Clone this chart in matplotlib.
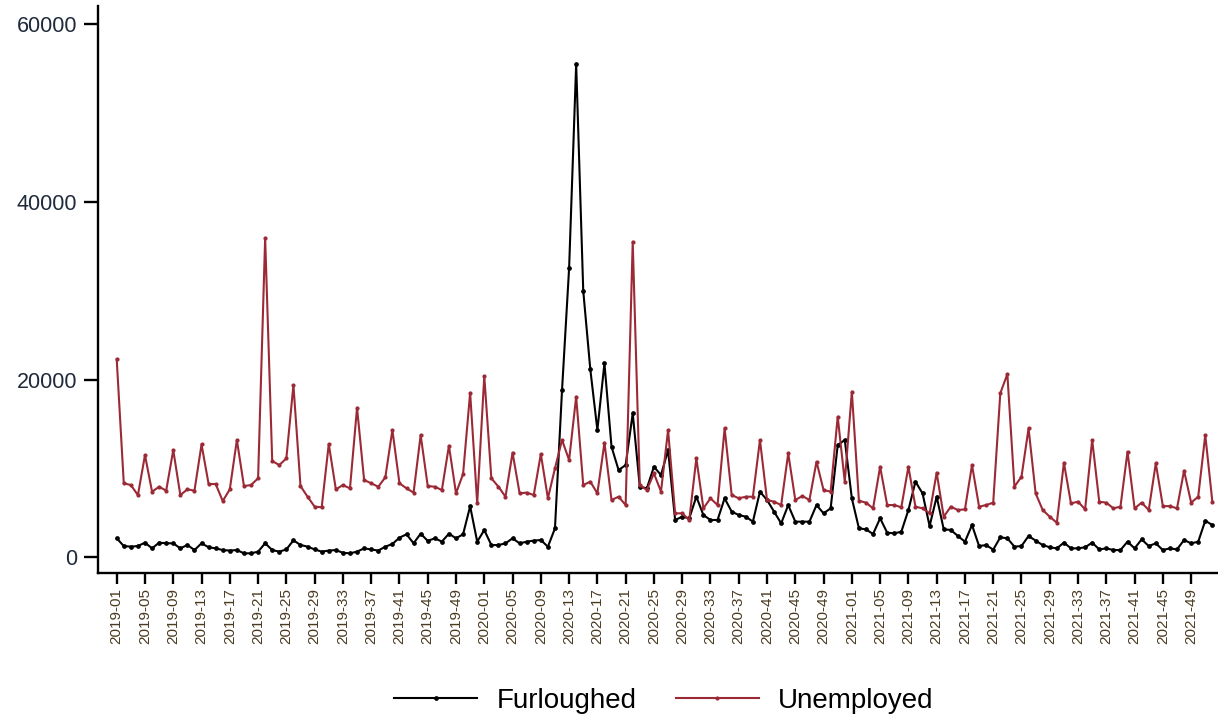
import numpy as np
import matplotlib
matplotlib.use("Agg")
import matplotlib.pyplot as plt

plt.rcParams['font.family'] = ['Liberation Sans', 'DejaVu Sans']

years = [2019, 2020, 2021]
weeks_per_year = 52

furloughed = [
    # 2019
    2140, 1270, 1200, 1270, 1650, 1010, 1650, 1580, 1580, 1010, 1390, 820, 1580,
    1130, 1010, 820, 760, 820, 450, 450, 640, 1580, 820, 640, 890, 1910,
    1390, 1200, 890, 640, 760, 820, 510, 450, 640, 1010, 890, 760, 1200,
    1500, 2210, 2590, 1580, 2660, 1850, 2140, 1770, 2660, 2140, 2590, 5740, 1760,
    # 2020
    3070, 1380, 1380, 1570, 2140, 1570, 1760, 1880, 1950, 1190, 3260, 18820, 32510,
    55500, 29990, 21150, 14320, 21830, 12440, 9820, 10380, 16200, 7950, 7760, 10190, 9260,
    12070, 4200, 4570, 4390, 6820, 4760, 4200, 4200, 6640, 5140, 4760, 4570, 4010,
    7390, 6450, 5140, 3820, 5880, 4010, 4010, 4010, 5880, 4950, 5510, 12630, 13200,
    # 2021
    6640, 3260, 3150, 2620, 4390, 2770, 2700, 2880, 5320, 8510, 7200, 3520, 6820,
    3150, 3080, 2400, 1760, 3630, 1270, 1380, 860, 2250, 2140, 1200, 1270, 2400,
    1880, 1380, 1130, 1010, 1650, 1010, 1010, 1130, 1650, 890, 1010, 820, 820,
    1760, 1010, 2020, 1270, 1570, 820, 1010, 890, 1950, 1570, 1760, 4120, 3630,
]

unemployed = [
    # 2019
    22280, 8330, 8130, 7000, 11500, 7380, 7940, 7500, 12070, 7000, 7650, 7500, 12700,
    8250, 8250, 6330, 7650, 13200, 8020, 8130, 8890, 35900, 10830, 10380, 11130, 19380,
    8020, 6820, 5700, 5630, 12750, 7650, 8130, 7760, 16830, 8700, 8330, 7940, 9000,
    14320, 8330, 7760, 7280, 13760, 8020, 7940, 7570, 12560, 7200, 9370, 18520, 6070,
    # 2020
    20400, 8890, 7950, 6820, 11770, 7200, 7280, 7010, 11620, 6640, 10010, 13200, 10950,
    18070, 8130, 8510, 7200, 12900, 6450, 6820, 5880, 35510, 8130, 7570, 9450, 7390,
    14320, 4950, 4950, 4200, 11140, 5510, 6640, 5880, 14510, 7010, 6640, 6820, 6820,
    13200, 6450, 6260, 5880, 11700, 6450, 6900, 6450, 10760, 7570, 7390, 15820, 8510,
    # 2021
    18630, 6370, 6150, 5510, 10190, 5880, 5880, 5630, 10190, 5700, 5510, 4950, 9520,
    4570, 5700, 5320, 5400, 10380, 5700, 5880, 6150, 18450, 20620, 7950, 9070, 14510,
    7200, 5320, 4570, 3890, 10640, 6070, 6260, 5400, 13200, 6260, 6150, 5510, 5700,
    11880, 5510, 6150, 5320, 10570, 5760, 5760, 5510, 9750, 6150, 6820, 13760, 6260,
]

week_labels = [f"{y}-{w:02d}" for y in years for w in range(1, weeks_per_year + 1)]
x = np.arange(len(week_labels))

fig = plt.figure(figsize=(12.18, 7.17), dpi=100)
ax = fig.add_axes([0.0805, 0.2008, 0.9195, 0.7908])

ax.plot(x, furloughed, color="black", lw=1.5, marker="o", ms=2.4, label="Furloughed")
ax.plot(x, unemployed, color="#9b2a36", lw=1.5, marker="o", ms=2.0, label="Unemployed")

ax.set_xlim(-2.64, 155.8)
ax.set_ylim(-1766, 62020)

ax.set_yticks([0, 20000, 40000, 60000])
ax.set_yticklabels(["0", "20000", "40000", "60000"], fontsize=15.5, color="#1f2a3a")
tick_idx = x[::4]
ax.set_xticks(tick_idx)
ax.set_xticklabels([week_labels[i] for i in tick_idx], rotation=90, fontsize=11,
                   color="#4a3a20")

for s in ["top", "right"]:
    ax.spines[s].set_visible(False)
for s in ["left", "bottom"]:
    ax.spines[s].set_linewidth(1.7)
ax.tick_params(axis="y", length=10, width=1.7, pad=5)
ax.tick_params(axis="x", length=8, width=1.7, pad=3)

fig.legend(loc="lower center", bbox_to_anchor=(0.545, -0.03), ncol=2, frameon=False,
           fontsize=20, handlelength=3.0, columnspacing=1.4, handletextpad=0.7)

fig.savefig("out.png", dpi=100)
